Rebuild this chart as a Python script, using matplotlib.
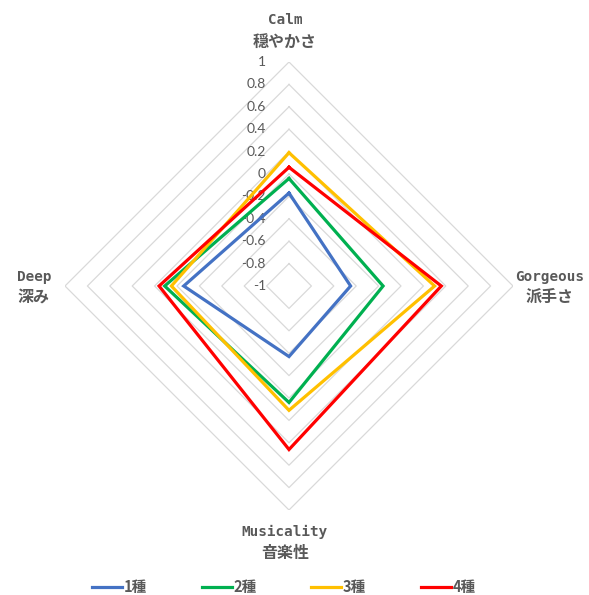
import numpy as np
import matplotlib
matplotlib.use("Agg")
import matplotlib.pyplot as plt
from matplotlib.transforms import offset_copy
from matplotlib.lines import Line2D

# ---- data ----
axes_en = ["Calm", "Gorgeous", "Musicality", "Deep"]
axes_ja = ["穏やかさ", "派手さ", "音楽性", "深み"]
series_names = ["1種", "2種", "3種", "4種"]
s1 = [-0.17, -0.45, -0.37, -0.06]
s2 = [-0.04, -0.16, 0.04, 0.11]
s3 = [0.19, 0.30, 0.11, 0.05]
s4 = [0.06, 0.36, 0.46, 0.16]
series_values = [s1, s2, s3, s4]
tick_values = [-1, -0.8, -0.6, -0.4, -0.2, 0, 0.2, 0.4, 0.6, 0.8, 1]
tick_labels = ["-1", "-0.8", "-0.6", "-0.4", "-0.2", "0", "0.2", "0.4", "0.6", "0.8", "1"]

colors = ["#4472C4", "#00B050", "#FFC000", "#FF0000"]
text_gray = "#595959"

W, H = 589, 595
fig = plt.figure(figsize=(W / 100, H / 100), dpi=100)
cx, cy, R = 289, 286, 224
ax = fig.add_axes([(cx - R) / W, (H - cy - R) / H, 2 * R / W, 2 * R / H], projection="polar")
ax.set_theta_offset(np.pi / 2)
ax.set_theta_direction(-1)
ax.set_ylim(-1, 1)
ax.set_xticks([])
ax.set_yticks([])
ax.grid(False)
ax.spines["polar"].set_visible(False)
ax.patch.set_alpha(0)

n = len(axes_en)
theta = np.linspace(0, 2 * np.pi, n, endpoint=False)
theta_c = np.append(theta, theta[0])

# polygon grid
for v in tick_values[1:]:
    ax.plot(theta_c, [v] * (n + 1), color="#D9D9D9", lw=0.9, zorder=1)

# tick labels
tr = offset_copy(ax.transData, fig=fig, x=-23, y=0, units="dots")
for v, lab in zip(tick_values, tick_labels):
    ax.text(0, v, lab, transform=tr, ha="right", va="center", fontsize=10,
            color=text_gray, family="Lato", zorder=3)

# series
for vals, c, name in zip(series_values, colors, series_names):
    ax.plot(theta_c, list(vals) + [vals[0]], color=c, lw=2.3, zorder=4,
            solid_joinstyle="miter", label=name)

# axis labels
label_pos = [(285, 20, 42), (550, 277, 297), (285, 532, 553), (34, 277, 297)]
for (x, y1, y2), en, ja in zip(label_pos, axes_en, axes_ja):
    fig.text(x / W, 1 - y1 / H, en, ha="center", va="center", fontsize=10.3,
             fontweight="bold", family="DejaVu Sans Mono", color=text_gray)
    fig.text(x / W, 1 - y2 / H, ja, ha="center", va="center", fontsize=11.5,
             fontweight="bold", family="Noto Sans CJK JP", color=text_gray)

handles = [Line2D([], [], color=c, lw=2.3) for c in colors]
leg = fig.legend(handles, series_names, loc="center", bbox_to_anchor=(284 / W, 1 - 587 / H),
                 ncol=4, frameon=False, handlelength=2.05, handletextpad=0.12,
                 columnspacing=3.75, prop={"family": "Noto Sans CJK JP", "weight": "bold", "size": 10.5})
for t in leg.get_texts():
    t.set_color(text_gray)

fig.savefig("out.png", dpi=100)
